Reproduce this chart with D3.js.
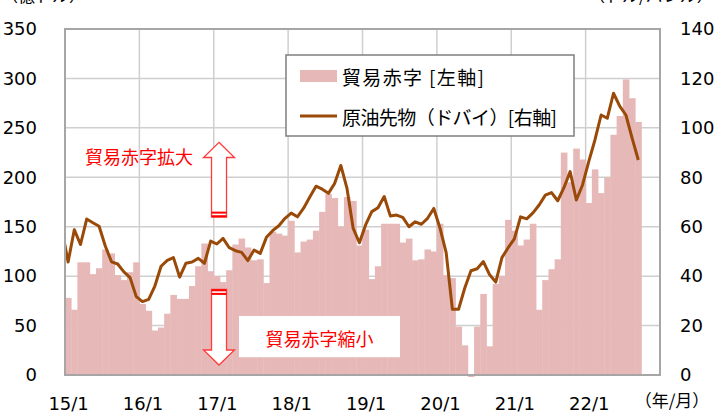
<!DOCTYPE html>
<html>
<head>
<meta charset="utf-8">
<script src="https://cdn.jsdelivr.net/npm/d3@7"></script>
<style>
  body { margin: 0; background: #fff; }
  svg { display: block; }
</style>
</head>
<body>
<div id="chart"></div>
<script>
// Datos: meses (14/12 queda fuera del eje, sólo se ve recortado)
const months = [
  "14/12",
  "15/1","15/2","15/3","15/4","15/5","15/6","15/7","15/8","15/9","15/10","15/11","15/12",
  "16/1","16/2","16/3","16/4","16/5","16/6","16/7","16/8","16/9","16/10","16/11","16/12",
  "17/1","17/2","17/3","17/4","17/5","17/6","17/7","17/8","17/9","17/10","17/11","17/12",
  "18/1","18/2","18/3","18/4","18/5","18/6","18/7","18/8","18/9","18/10","18/11","18/12",
  "19/1","19/2","19/3","19/4","19/5","19/6","19/7","19/8","19/9","19/10","19/11","19/12",
  "20/1","20/2","20/3","20/4","20/5","20/6","20/7","20/8","20/9","20/10","20/11","20/12",
  "21/1","21/2","21/3","21/4","21/5","21/6","21/7","21/8","21/9","21/10","21/11","21/12",
  "22/1","22/2","22/3","22/4","22/5","22/6","22/7","22/8","22/9"
];

// 貿易赤字 (億ドル) - eje izquierdo
const deficit = [
  93,
  78, 66, 114, 114, 102, 108, 127, 123, 101, 96, 104, 114,
  72, 65, 45, 48, 62, 81, 77, 77, 90, 110, 133, 105,
  100, 94, 106, 132, 138, 129, 116, 117, 93, 145, 143, 141,
  156, 124, 135, 137, 146, 165, 183, 179, 150, 180, 176, 131,
  147, 97, 110, 153, 153, 153, 134, 138, 116, 117, 127, 125,
  153, 101, 98, 49, 30, -2, 49, 82, 29, 92, 100, 157,
  146, 131, 137, 153, 66, 96, 107, 117, 225, 195, 229, 218,
  174, 208, 184, 200, 243, 262, 299, 280, 256
];

// 原油先物（ドバイ） (ドル/バレル) - eje derecho
const oil = [
  59,
  45.7, 58.8, 52.8, 63.1, 61.6, 60.2, 52.2, 45.8, 44.9, 41.7, 39.4, 31.7,
  29.7, 30.6, 36, 44, 46.4, 47.5, 39.6, 45.2, 45.7, 47.2, 45.2, 54.2,
  53, 55.3, 51.5, 50.3, 49.6, 46.3, 50.6, 49.2, 55.7, 58.4, 60.4, 63.4,
  65.5, 64, 67.5, 72, 76.4, 75.2, 73.5, 77.5, 84.8, 75.5, 59.3, 53.5,
  60.7, 66.1, 67.7, 72.2, 64.3, 64.7, 63.8, 60, 62, 61, 63.4, 67.4,
  59.5, 49.5, 26.6, 26.6, 35.2, 42.2, 43, 45.9, 40.6, 37.6, 47.5, 51.5,
  55.1, 64, 63.2, 65.6, 68.8, 72.8, 73.8, 70.5, 75.8, 82.3, 70.8, 76.9,
  86.3, 95.1, 105.2, 103.9, 114, 108.8, 105.2, 95.8, 87
];

const xTickLabels = ["15/1","16/1","17/1","18/1","19/1","20/1","21/1","22/1"];
const leftTicks = [0, 50, 100, 150, 200, 250, 300, 350];
const rightTicks = [0, 20, 40, 60, 80, 100, 120, 140];

const W = 717, H = 413;
const plot = {left: 65, top: 29, right: 660, bottom: 375};
const numFont = "'DejaVu Sans', Verdana, sans-serif";
const jpFont = "'Noto Sans CJK JP', 'Noto Sans', sans-serif";
const barColor = "#e6b9b8";
const lineColor = "#9a4a08";
const red = "#ff0000";

// posición del mes (0 = 15/1)
const monthPos = m => {
  const [yy, mm] = m.split("/").map(Number);
  return (yy - 15) * 12 + (mm - 1);
};

const data = months.map((m, i) => ({m, pos: monthPos(m), deficit: deficit[i], oil: oil[i]}));

const svg = d3.select("#chart").append("svg")
  .attr("width", W).attr("height", H);

// Escalas
const x = d3.scaleLinear().domain([0, 96]).range([plot.left, plot.right]);
const yL = d3.scaleLinear().domain([0, 350]).range([plot.bottom, plot.top]);
const yR = d3.scaleLinear().domain([0, 140]).range([plot.bottom, plot.top]);

svg.append("defs").append("clipPath").attr("id", "clip")
  .append("rect")
  .attr("x", plot.left).attr("y", plot.top)
  .attr("width", plot.right - plot.left).attr("height", plot.bottom - plot.top + 3);

// Rejilla
const grid = svg.append("g").attr("stroke", "#cfcfcf").attr("stroke-width", 1.5);
grid.selectAll("line.h")
  .data(leftTicks.filter(d => d > 0 && d < 350))
  .join("line").attr("class", "h")
  .attr("x1", plot.left).attr("x2", plot.right)
  .attr("y1", d => yL(d)).attr("y2", d => yL(d));
grid.selectAll("line.v")
  .data(xTickLabels.slice(1).map(monthPos))
  .join("line").attr("class", "v")
  .attr("x1", d => x(d)).attr("x2", d => x(d))
  .attr("y1", plot.top).attr("y2", plot.bottom);

// Barras
const series = svg.append("g").attr("clip-path", "url(#clip)");
series.selectAll("rect")
  .data(data)
  .join("rect")
  .attr("x", d => x(d.pos))
  .attr("width", d => x(d.pos + 1) - x(d.pos) + 0.4)
  .attr("y", d => yL(Math.max(d.deficit, 0)))
  .attr("height", d => Math.abs(yL(d.deficit) - yL(0)))
  .attr("fill", barColor);

// Línea
series.append("path")
  .datum(data)
  .attr("fill", "none")
  .attr("stroke", lineColor)
  .attr("stroke-width", 3)
  .attr("stroke-linejoin", "round")
  .attr("d", d3.line().x(d => x(d.pos + 0.5)).y(d => yR(d.oil)));

// Marco
svg.append("rect")
  .attr("x", plot.left).attr("y", plot.top)
  .attr("width", plot.right - plot.left).attr("height", plot.bottom - plot.top)
  .attr("fill", "none").attr("stroke", "#a6a6a6").attr("stroke-width", 2);

// Ejes
const styleAxis = g => {
  g.select(".domain").remove();
  g.selectAll("text").attr("font-family", numFont).attr("font-size", 18).attr("fill", "#000");
};
svg.append("g")
  .attr("transform", `translate(${plot.left},0)`)
  .call(d3.axisLeft(yL).tickValues(leftTicks).tickSize(0).tickPadding(28))
  .call(styleAxis);
svg.append("g")
  .attr("transform", `translate(${plot.right},0)`)
  .call(d3.axisRight(yR).tickValues(rightTicks).tickSize(0).tickPadding(20))
  .call(styleAxis);
svg.append("g")
  .attr("transform", `translate(0,${plot.bottom})`)
  .call(d3.axisBottom(x)
    .tickValues(xTickLabels.map(l => monthPos(l) + 0.5))
    .tickFormat((d, i) => xTickLabels[i])
    .tickSize(0).tickPadding(22))
  .call(styleAxis);

// Unidades (cortadas arriba, igual que en el original)
svg.append("text").attr("x", 1).attr("y", 2)
  .attr("font-family", jpFont).attr("font-size", 17).attr("fill", "#000")
  .text("（億ドル）");
svg.append("text").attr("x", 588).attr("y", 2)
  .attr("font-family", jpFont).attr("font-size", 17).attr("fill", "#000")
  .text("（ドル/バレル）");
svg.append("text").attr("x", 672).attr("y", 407)
  .attr("text-anchor", "middle")
  .attr("font-family", jpFont).attr("font-size", 17).attr("fill", "#000")
  .text("（年/月）");

// Leyenda
const legend = svg.append("g");
legend.append("rect")
  .attr("x", 286).attr("y", 55).attr("width", 288).attr("height", 81)
  .attr("fill", "#fff").attr("stroke", "#7f7f7f").attr("stroke-width", 1.5);
legend.append("rect")
  .attr("x", 300).attr("y", 70).attr("width", 37).attr("height", 12)
  .attr("fill", barColor);
legend.append("line")
  .attr("x1", 300).attr("x2", 337).attr("y1", 116).attr("y2", 116)
  .attr("stroke", lineColor).attr("stroke-width", 3);
legend.selectAll("text")
  .data([{t: "貿易赤字 [左軸]", y: 76.5, len: 142}, {t: "原油先物（ドバイ）[右軸]", y: 116.5, len: 215}])
  .join("text")
  .attr("x", 342).attr("y", d => d.y)
  .attr("dominant-baseline", "central")
  .attr("textLength", d => d.len).attr("lengthAdjust", "spacing")
  .attr("font-family", jpFont).attr("font-size", 19).attr("fill", "#000")
  .text(d => d.t);

// Anotaciones
const ann = svg.append("g");
const ax = x(24.85);
const headW = 15.5, shaftW = 7.5;

// flecha hacia arriba
const upTip = yL(235.4), upBase = yL(220), upEnd = yL(159.6);
ann.append("path")
  .attr("d", `M${ax},${upTip} L${ax + headW},${upBase} L${ax + shaftW},${upBase} L${ax + shaftW},${upEnd}
    L${ax - shaftW},${upEnd} L${ax - shaftW},${upBase} L${ax - headW},${upBase} Z`)
  .attr("fill", "#fff").attr("stroke", "#ff3b3b").attr("stroke-width", 1.3);
ann.selectAll("rect.us")
  .data([upEnd - 5.6, upEnd - 2])
  .join("rect").attr("class", "us")
  .attr("x", ax - shaftW).attr("width", shaftW * 2)
  .attr("y", d => d).attr("height", 2)
  .attr("fill", red);

// flecha hacia abajo
const dnStart = yL(86.7), dnBase = yL(25.3), dnTip = yL(10.1);
ann.append("path")
  .attr("d", `M${ax - shaftW},${dnStart} L${ax + shaftW},${dnStart} L${ax + shaftW},${dnBase}
    L${ax + headW},${dnBase} L${ax},${dnTip} L${ax - headW},${dnBase} L${ax - shaftW},${dnBase} Z`)
  .attr("fill", "#fff").attr("stroke", "#ff3b3b").attr("stroke-width", 1.3);
ann.selectAll("rect.ds")
  .data([dnStart, dnStart + 3.6])
  .join("rect").attr("class", "ds")
  .attr("x", ax - shaftW).attr("width", shaftW * 2)
  .attr("y", d => d).attr("height", 2)
  .attr("fill", red);

ann.append("text")
  .attr("x", 85).attr("y", yL(222))
  .attr("dominant-baseline", "central")
  .attr("font-family", jpFont).attr("font-size", 18).attr("fill", red)
  .text("貿易赤字拡大");

ann.append("rect")
  .attr("x", 239).attr("y", yL(59.7)).attr("width", 161).attr("height", yL(18) - yL(59.7))
  .attr("fill", "#fff");
ann.append("text")
  .attr("x", 319.5).attr("y", yL(37.5))
  .attr("text-anchor", "middle").attr("dominant-baseline", "central")
  .attr("font-family", jpFont).attr("font-size", 18).attr("fill", red)
  .text("貿易赤字縮小");
</script>
</body>
</html>
